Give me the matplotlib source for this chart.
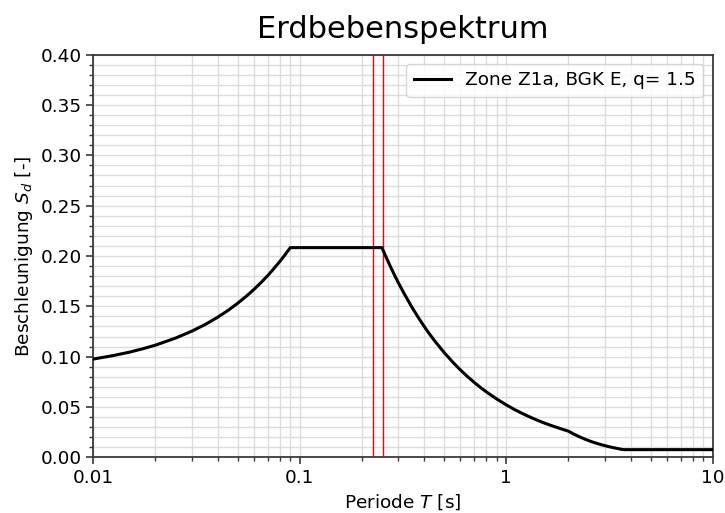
import matplotlib
matplotlib.use("Agg")
import matplotlib.pyplot as plt
from matplotlib.ticker import MultipleLocator, FixedLocator, FixedFormatter, LogLocator, NullFormatter

# Spectrum points
periods = [0.01, 0.0125, 0.015, 0.0175, 0.02, 0.025, 0.03, 0.035, 0.04, 0.045, 0.05,
           0.055, 0.06, 0.065, 0.07, 0.075, 0.08, 0.085, 0.09, 0.25, 0.26, 0.275, 0.29,
           0.3, 0.32, 0.35, 0.375, 0.4, 0.425, 0.45, 0.5, 0.55, 0.6, 0.65, 0.7, 0.75,
           0.8, 0.85, 0.9, 1.0, 1.1, 1.2, 1.3, 1.4, 1.5, 1.6, 1.75, 1.9, 2.0, 2.1,
           2.25, 2.4, 2.5, 2.6, 2.75, 2.9, 3.0, 3.15, 3.3, 3.45, 3.6, 3.7, 10.0]
sd_values = [0.0976, 0.1011, 0.1045, 0.1080, 0.1114, 0.1184, 0.1253, 0.1322, 0.1391,
             0.1460, 0.1530, 0.1599, 0.1668, 0.1737, 0.1806, 0.1876, 0.1945, 0.2014,
             0.2083, 0.2083, 0.2003, 0.1894, 0.1796, 0.1736, 0.1628, 0.1488, 0.1389,
             0.1302, 0.1225, 0.1157, 0.1042, 0.0947, 0.0868, 0.0801, 0.0744, 0.0694,
             0.0651, 0.0613, 0.0579, 0.0521, 0.0473, 0.0434, 0.0401, 0.0372, 0.0347,
             0.0326, 0.0298, 0.0274, 0.0260, 0.0236, 0.0206, 0.0181, 0.0167, 0.0154,
             0.0138, 0.0124, 0.0116, 0.0105, 0.0096, 0.0088, 0.0080, 0.0076, 0.0076]
red_lines = [0.226, 0.252]
series_label = "Zone Z1a, BGK E, q= 1.5"
xtick_vals = [0.01, 0.1, 1, 10]
xtick_labels = ["0.01", "0.1", "1", "10"]

fig = plt.figure(figsize=(7.25, 5.13), dpi=100)
ax = fig.add_axes([0.1287, 0.1086, 0.8543, 0.7848])

ax.plot(periods, sd_values, color="black", lw=2.2, label=series_label, zorder=3)
for t in red_lines:
    ax.axvline(t, color="red", lw=1, zorder=2)

ax.set_xscale("log")
ax.set_xlim(0.01, 10)
ax.set_ylim(0, 0.40)
ax.xaxis.set_major_locator(FixedLocator(xtick_vals))
ax.xaxis.set_major_formatter(FixedFormatter(xtick_labels))
ax.xaxis.set_minor_locator(LogLocator(base=10, subs=range(2, 10)))
ax.xaxis.set_minor_formatter(NullFormatter())
ax.yaxis.set_major_locator(MultipleLocator(0.05))
ax.yaxis.set_minor_locator(MultipleLocator(0.01))
ax.yaxis.set_major_formatter(plt.FormatStrFormatter("%.2f"))

ax.grid(True, which="both", color="#dddddd", lw=1, zorder=0)
ax.set_axisbelow(True)
for s in ax.spines.values():
    s.set_color("#3a3a3a")
    s.set_linewidth(1.3)
ax.tick_params(which="major", length=5, width=1.2, labelsize=13.3, color="#3a3a3a")
ax.tick_params(which="minor", length=3, width=1, color="#3a3a3a")

ax.set_title("Erdbebenspektrum", fontsize=22, pad=12)
ax.set_xlabel("Periode $T$ [s]", fontsize=13.3)
ax.set_ylabel("Beschleunigung $S_d$ [-]", fontsize=13.3)
ax.legend(loc="upper right", fontsize=13.3)

fig.savefig("out.png", dpi=100)
